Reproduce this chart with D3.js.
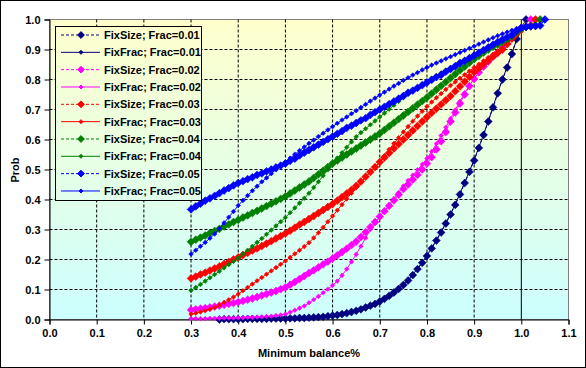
<!DOCTYPE html>
<html>
<head>
<meta charset="utf-8">
<script src="https://cdn.jsdelivr.net/npm/d3@7"></script>
<style>
  body { margin: 0; background: #fff; }
  text { font-family: Arial, 'Liberation Sans', sans-serif; font-weight: bold; }
</style>
</head>
<body>
<svg id="chart" width="586" height="368"></svg>
<script>
// minimum balance thresholds (x)
var balance = [0.30,0.31,0.32,0.33,0.34,0.35,0.36,0.37,0.38,0.39,
               0.40,0.41,0.42,0.43,0.44,0.45,0.46,0.47,0.48,0.49,
               0.50,0.51,0.52,0.53,0.54,0.55,0.56,0.57,0.58,0.59,
               0.60,0.61,0.62,0.63,0.64,0.65,0.66,0.67,0.68,0.69,
               0.70,0.71,0.72,0.73,0.74,0.75,0.76,0.77,0.78,0.79,
               0.80,0.81,0.82,0.83,0.84,0.85,0.86,0.87,0.88,0.89,
               0.90,0.91,0.92,0.93,0.94,0.95,0.96,0.97,0.98,0.99,
               1.00,1.01,1.02,1.03,1.04,1.05];

var sizeF01 = [null,null,null,null,null,null,.000,.001,.001,.001,
               .001,.001,.002,.002,.002,.002,.002,.003,.003,.003,
               .003,.004,.004,.005,.005,.006,.007,.008,.009,.011,
               .013,.015,.018,.021,.025,.029,.034,.040,.046,.052,
               .060,.069,.079,.090,.102,.115,.130,.148,.168,.189,
               .212,.237,.263,.290,.320,.350,.382,.417,.455,.492,
               .530,.572,.615,.660,.707,.754,.800,.840,.885,.935,
               .972,1.0,null,null,null,null];
var fracF01 = [null,null,null,null,null,null,.000,.000,.001,.001,
               .001,.001,.001,.002,.002,.002,.002,.003,.003,.003,
               .004,.004,.004,.005,.006,.006,.007,.008,.010,.012,
               .014,.016,.019,.022,.026,.030,.035,.041,.047,.054,
               .062,.071,.081,.092,.104,.117,.132,.150,.170,.191,
               .214,.239,.265,.293,.322,.352,.385,.420,.457,.494,
               .532,.574,.617,.662,.709,.756,.801,.842,.887,.932,
               .965,null,null,null,null,null];
var sizeF02 = [.032,.034,.036,.038,.040,.043,.046,.049,.052,.055,
               .058,.062,.066,.070,.075,.080,.085,.090,.095,.101,
               .107,.116,.125,.135,.145,.155,.164,.174,.184,.193,
               .203,.214,.225,.236,.248,.260,.275,.291,.308,.325,
               .343,.361,.379,.397,.416,.435,.450,.466,.482,.500,
               .520,.541,.567,.594,.625,.660,.690,.720,.750,.778,
               .802,.824,.843,.860,.876,.890,.905,.920,.940,.958,
               .972,.976,1.0,null,null,null];
var fracF02 = [.003,.003,.003,.003,.004,.004,.004,.005,.005,.005,
               .006,.006,.007,.007,.008,.009,.010,.011,.013,.015,
               .018,.024,.031,.038,.045,.056,.066,.077,.089,.101,
               .114,.128,.147,.168,.192,.217,.244,.272,.300,.322,
               .344,.362,.382,.402,.423,.445,.463,.481,.499,.517,
               .537,.560,.586,.613,.641,.670,.698,.727,.755,.780,
               .803,.824,.843,.861,.878,.893,.908,.923,.938,.952,
               .965,null,null,null,null,null];
var sizeF03 = [.137,.143,.150,.156,.163,.170,.177,.185,.192,.200,
               .207,.215,.222,.230,.237,.245,.253,.261,.270,.278,
               .287,.296,.306,.316,.325,.335,.345,.355,.365,.375,
               .385,.396,.408,.420,.432,.445,.460,.476,.492,.508,
               .525,.540,.555,.570,.585,.600,.615,.630,.645,.660,
               .675,.689,.703,.717,.731,.745,.761,.777,.793,.809,
               .825,.838,.851,.864,.877,.889,.900,.918,.936,.955,
               .970,.976,.979,1.0,null,null];
var fracF03 = [.018,.021,.025,.029,.034,.040,.048,.057,.066,.075,
               .085,.096,.107,.118,.129,.140,.151,.162,.173,.184,
               .195,.207,.219,.231,.243,.256,.272,.289,.307,.326,
               .345,.364,.383,.402,.421,.440,.457,.474,.491,.508,
               .525,.546,.567,.587,.606,.625,.643,.661,.678,.694,
               .710,.725,.739,.753,.767,.780,.792,.804,.816,.828,
               .840,.851,.862,.873,.884,.895,.907,.920,.933,.946,
               .960,null,null,null,null,null];
var sizeF04 = [.259,.266,.273,.280,.288,.295,.302,.310,.317,.325,
               .332,.340,.347,.355,.362,.370,.378,.386,.394,.402,
               .410,.420,.430,.440,.450,.460,.472,.484,.496,.508,
               .520,.530,.540,.550,.560,.570,.580,.590,.600,.610,
               .620,.632,.644,.656,.668,.680,.692,.704,.716,.728,
               .740,.753,.766,.779,.792,.805,.818,.831,.843,.856,
               .868,.879,.890,.900,.909,.917,.926,.935,.945,.958,
               .970,.975,.978,.980,1.0,null];
var fracF04 = [.097,.107,.117,.128,.139,.150,.161,.172,.183,.194,
               .205,.218,.231,.244,.257,.270,.284,.298,.312,.326,
               .340,.356,.372,.388,.404,.421,.440,.459,.479,.499,
               .519,.538,.556,.574,.592,.609,.623,.636,.649,.662,
               .675,.688,.701,.714,.727,.740,.751,.762,.773,.784,
               .795,.804,.813,.822,.831,.840,.849,.858,.867,.876,
               .885,.893,.901,.909,.917,.925,.933,.941,.949,.957,
               .965,null,null,null,null,null];
var sizeF05 = [.367,.377,.386,.396,.404,.412,.421,.430,.438,.447,
               .455,.461,.468,.474,.482,.487,.494,.500,.507,.513,
               .520,.529,.536,.547,.556,.565,.574,.583,.592,.601,
               .610,.619,.628,.639,.646,.655,.664,.671,.682,.691,
               .700,.709,.718,.727,.736,.745,.756,.763,.772,.781,
               .790,.799,.808,.815,.826,.835,.844,.855,.862,.871,
               .880,.889,.898,.907,.916,.925,.933,.941,.948,.962,
               .972,.975,.977,.978,.980,1.0];
var fracF05 = [.218,.231,.244,.257,.271,.285,.303,.322,.341,.360,
               .380,.397,.413,.429,.444,.459,.472,.486,.499,.512,
               .525,.538,.551,.563,.575,.587,.598,.610,.621,.632,
               .643,.654,.665,.675,.686,.696,.707,.717,.728,.738,
               .748,.758,.768,.778,.787,.797,.806,.815,.823,.832,
               .840,.848,.855,.862,.869,.876,.883,.890,.897,.904,
               .911,.918,.925,.932,.939,.946,.952,.958,.964,.970,
               .975,null,null,null,null,null];

var seriesNames = ['FixSize; Frac=0.01', 'FixFrac; Frac=0.01',
                   'FixSize; Frac=0.02', 'FixFrac; Frac=0.02',
                   'FixSize; Frac=0.03', 'FixFrac; Frac=0.03',
                   'FixSize; Frac=0.04', 'FixFrac; Frac=0.04',
                   'FixSize; Frac=0.05', 'FixFrac; Frac=0.05'];
var seriesValues = [sizeF01, fracF01, sizeF02, fracF02, sizeF03,
                    fracF03, sizeF04, fracF04, sizeF05, fracF05];
var seriesColors = ['#000080', '#000080', '#FF00FF', '#FF00FF', '#FF0000',
                    '#FF0000', '#008000', '#008000', '#0000FF', '#0000FF'];

var xTicks = [0, 0.1, 0.2, 0.3, 0.4, 0.5, 0.6, 0.7, 0.8, 0.9, 1.0, 1.1];
var yTicks = [0, 0.1, 0.2, 0.3, 0.4, 0.5, 0.6, 0.7, 0.8, 0.9, 1.0];
var refLine = 1.0;

var plotL = 49.5, plotR = 568.5, plotT = 19.5, plotB = 319.5;

var svg = d3.select('#chart');

svg.append('rect')
   .attr('x', 0.5).attr('y', 0.5)
   .attr('width', 585).attr('height', 367)
   .style('fill', '#fff')
   .style('stroke', '#000');

var x = d3.scaleLinear().domain([0, 1.1]).range([plotL, plotR]);
var y = d3.scaleLinear().domain([0, 1.0]).range([plotB, plotT]);

// plot area gradient (shared by the legend box)
var grad = svg.append('defs').append('linearGradient')
   .attr('id', 'bg')
   .attr('gradientUnits', 'userSpaceOnUse')
   .attr('x1', 0).attr('y1', plotT).attr('x2', 0).attr('y2', plotB);
grad.append('stop').attr('offset', '0%').attr('stop-color', '#FFFFCC');
grad.append('stop').attr('offset', '100%').attr('stop-color', '#CCFFFF');

svg.append('rect')
   .attr('x', plotL).attr('y', plotT)
   .attr('width', plotR - plotL).attr('height', plotB - plotT)
   .style('fill', 'url(#bg)')
   .style('stroke', '#808080');

// grid
svg.append('g').selectAll('line')
   .data(yTicks.filter(function(d){ return d > 0 && d < 1; }))
   .enter().append('line')
   .attr('x1', plotL).attr('x2', plotR)
   .attr('y1', function(d){ return y(d); })
   .attr('y2', function(d){ return y(d); })
   .style('stroke', '#000')
   .style('stroke-dasharray', '3 2');
svg.append('g').selectAll('line')
   .data(xTicks.filter(function(d){ return d > 0 && d < 1.05 && d !== refLine; }))
   .enter().append('line')
   .attr('y1', plotT).attr('y2', plotB)
   .attr('x1', function(d){ return x(d); })
   .attr('x2', function(d){ return x(d); })
   .style('stroke', '#000')
   .style('stroke-dasharray', '3 2');

svg.append('line')
   .attr('x1', x(refLine)).attr('x2', x(refLine))
   .attr('y1', y(0)).attr('y2', y(1))
   .style('stroke', '#000');

// axes
var fmt = d3.format('.1f');
var xAxis = svg.append('g')
   .attr('transform', 'translate(0,' + plotB + ')')
   .call(d3.axisBottom(x).tickValues(xTicks).tickFormat(fmt).tickSize(5).tickPadding(5));
var yAxis = svg.append('g')
   .attr('transform', 'translate(' + plotL + ',0)')
   .call(d3.axisLeft(y).tickValues(yTicks).tickFormat(fmt).tickSize(5).tickPadding(4));
[xAxis, yAxis].forEach(function(a){
  a.selectAll('text').style('font-size', '11px').style('fill', '#000');
  a.selectAll('line').style('stroke', '#000');
  a.select('.domain').style('stroke', '#000');
});

svg.append('text')
   .attr('x', 309).attr('y', 357)
   .attr('text-anchor', 'middle')
   .style('font-size', '11px')
   .text('Minimum balance%');
svg.append('text')
   .attr('transform', 'translate(19,170) rotate(-90)')
   .attr('text-anchor', 'middle')
   .style('font-size', '11px')
   .text('Prob');

function diamond(r){
  return 'M0,' + (-r) + 'L' + r + ',0L0,' + r + 'L' + (-r) + ',0Z';
}

// series
var line = d3.line()
   .defined(function(d){ return d[1] != null; })
   .x(function(d){ return x(d[0]); })
   .y(function(d){ return y(d[1]); });

for(var i = 0; i < seriesValues.length; i ++){
  var isSize = (i % 2 === 0);
  var pts = balance.map(function(b, j){ return [b, seriesValues[i][j]]; });
  var g = svg.append('g').attr('class', 'series');
  g.append('path')
   .attr('d', line(pts))
   .style('fill', 'none')
   .style('stroke', seriesColors[i])
   .style('stroke-width', 1)
   .style('stroke-dasharray', isSize ? '3 2' : null);
  g.selectAll('path.m')
   .data(pts.filter(function(d){ return d[1] != null; }))
   .enter().append('path')
   .attr('class', 'm')
   .attr('d', diamond(isSize ? 3.9 : 2.3))
   .attr('transform', function(d){ return 'translate(' + x(d[0]) + ',' + y(d[1]) + ')'; })
   .style('fill', seriesColors[i])
   .style('stroke', seriesColors[i])
   .style('stroke-width', 0.6);
}

// legend
var lg = svg.append('g');
lg.append('rect')
  .attr('x', 55.5).attr('y', 26.5)
  .attr('width', 146).attr('height', 174)
  .style('fill', 'url(#bg)')
  .style('stroke', '#000');
for(var k = 0; k < seriesNames.length; k ++){
  var ly = 35 + k * 17.33;
  var big = (k % 2 === 0);
  lg.append('line')
    .attr('x1', 61).attr('x2', 100)
    .attr('y1', ly).attr('y2', ly)
    .style('stroke', seriesColors[k])
    .style('stroke-dasharray', big ? '3 2' : null);
  lg.append('path')
    .attr('d', diamond(big ? 3.4 : 2))
    .attr('transform', 'translate(81,' + ly + ')')
    .style('fill', seriesColors[k])
    .style('stroke', seriesColors[k]);
  lg.append('text')
    .attr('x', 104).attr('y', ly + 4)
    .style('font-size', '11px')
    .text(seriesNames[k]);
}
</script>
</body>
</html>
